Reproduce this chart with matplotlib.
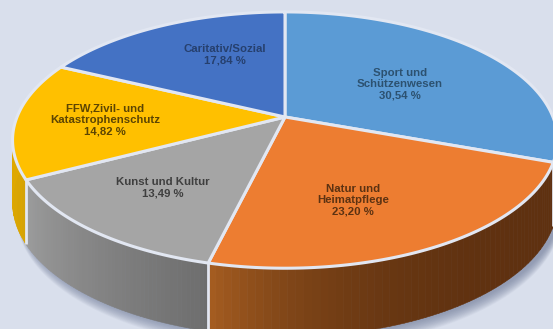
import numpy as np
import matplotlib
matplotlib.use('Agg')
import matplotlib.pyplot as plt
from matplotlib.colors import to_rgb

labels = ['Sport und\nSchützenwesen', 'Natur und\nHeimatpflege', 'Kunst und Kultur',
          'FFW,Zivil- und\nKatastrophenschutz', 'Caritativ/Sozial']
shares = [30.54, 23.20, 13.49, 14.82, 17.84]
top_colors = ['#5b9bd5', '#ed7d31', '#a5a5a5', '#ffc000', '#4472c4']
# wall colour at start and end of each slice (clockwise)
wall_a = ['#3a6ea0', '#5f3110', '#6e6e6e', '#d9a400', '#2f5597']
wall_b = ['#3a6ea0', '#a45c20', '#9c9c9c', '#e6ae00', '#2f5597']
label_pos = [(400, 84), (353, 200), (163, 188), (105, 120), (225, 55)]
text_colors = ['#2c5170', '#5c3212', '#3f3f3f', '#5c4503', '#26406e']

bg = '#d9dfec'
rim = '#e2e7f2'

# perspective disc
cx, cy = 285.0, 117.0
a, b, k = 268.0, 124.0, 0.18
depth = 60.0


def project(t, drop=0.0):
    s = np.sin(t)
    w = 1 + k * s
    return cx + a * np.cos(t) / w, cy - b * s / w + drop * (1.02 - 0.12 * s)


fig = plt.figure(figsize=(5.53, 3.29), dpi=100)
ax = fig.add_axes([0, 0, 1, 1])
ax.set_xlim(0, 553)
ax.set_ylim(329, 0)
ax.axis('off')
fig.patch.set_facecolor(bg)

t_all = np.linspace(0, 2 * np.pi, 361)

# soft shadow under the disc
for grow in np.linspace(16, 1, 16):
    x, y = project(t_all, depth)
    ax.fill(x + 4, y + grow * 0.8, color='#6f7a98', alpha=0.055, lw=0, zorder=1)

edges = np.radians(90 - 3.6 * np.cumsum([0] + shares) * 100 / sum(shares))

# walls, only the near side shows
for i in range(len(shares)):
    ts = np.linspace(edges[i], edges[i + 1], 60)
    c0, c1 = np.array(to_rgb(wall_a[i])), np.array(to_rgb(wall_b[i]))
    for j in range(len(ts) - 1):
        if np.sin(ts[j]) > 0.45:
            continue
        f = j / (len(ts) - 2)
        if i == 1:
            f = f ** 4
        x0, y0 = project(ts[j:j + 2])
        x1, y1 = project(ts[j:j + 2], depth)
        ax.fill(np.r_[x0, x1[::-1]], np.r_[y0, y1[::-1]], color=tuple(c0 + (c1 - c0) * f),
                lw=0.4, zorder=2)

# seams on the wall at slice boundaries
for e in edges[:-1]:
    if np.sin(e) < 0:
        x0, y0 = project(e)
        x1, y1 = project(e, depth)
        ax.plot([x0, x1], [y0, y1], color=rim, lw=2.0, zorder=3, solid_capstyle='butt')

# top faces
for i in range(len(shares)):
    ts = np.linspace(edges[i], edges[i + 1], 120)
    x, y = project(ts)
    ax.fill(np.r_[cx, x], np.r_[cy, y], facecolor=top_colors[i], edgecolor=rim, lw=2.2,
            joinstyle='round', zorder=4)
    tx, ty = label_pos[i]
    ax.text(tx, ty, '%s\n%s %%' % (labels[i], ('%.2f' % shares[i]).replace('.', ',')),
            ha='center', va='center', fontsize=8.2, fontweight='bold', color=text_colors[i],
            family='Liberation Sans', linespacing=1.16, zorder=5)

fig.savefig('out.png', dpi=100, facecolor=bg)
